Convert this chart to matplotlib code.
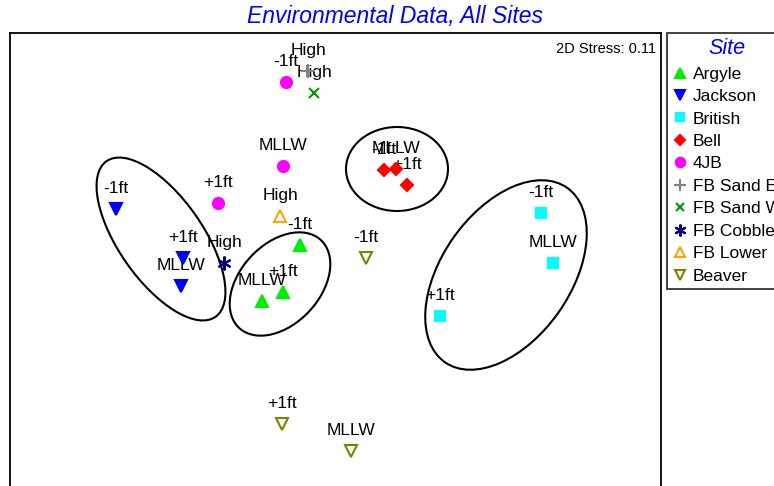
import matplotlib.pyplot as plt
from matplotlib.patches import Ellipse

plt.rcParams['font.family'] = ['Liberation Sans', 'DejaVu Sans']

# nMDS coordinates per site (one entry per tide level)
sites = ['Argyle', 'Jackson', 'British', 'Bell', '4JB',
         'FB Sand E', 'FB Sand W', 'FB Cobble', 'FB Lower', 'Beaver']
site_x = [
    [-0.35, -0.52, -0.73],
    [-2.19, -1.52, -1.54],
    [2.06, 2.18, 1.05],
    [0.49, 0.61, 0.72],
    [-0.49, -0.52, -1.17],
    [-0.27],
    [-0.21],
    [-1.11],
    [-0.55],
    [0.31, -0.53, 0.16],
]
site_y = [
    [0.55, 0.08, -0.01],
    [0.91, 0.42, 0.14],
    [0.87, 0.37, -0.16],
    [1.30, 1.31, 1.15],
    [2.18, 1.34, 0.97],
    [2.29],
    [2.07],
    [0.37],
    [0.84],
    [0.42, -1.24, -1.51],
]
site_levels = [
    ['-1ft', '+1ft', 'MLLW'],
    ['-1ft', '+1ft', 'MLLW'],
    ['-1ft', 'MLLW', '+1ft'],
    ['-1ft', 'MLLW', '+1ft'],
    ['-1ft', 'MLLW', '+1ft'],
    ['High'],
    ['High'],
    ['High'],
    ['High'],
    ['-1ft', '+1ft', 'MLLW'],
]
stress = 0.11

# marker, colour, size, filled
asterisk = (6, 2, 0)
styles = [
    ('^', '#00ee00', 9, True),
    ('v', '#0000ff', 9, True),
    ('s', '#00ffff', 7.5, True),
    ('D', '#ff0000', 6.5, True),
    ('o', '#ff00ff', 8, True),
    ('+', '#808080', 10, True),
    ('x', '#009900', 7, True),
    (asterisk, '#000080', 10, True),
    ('^', '#ffa500', 9, False),
    ('v', '#808000', 9, False),
]

# grouping ellipses: centre, width, height, angle
ellipses = [
    ((-1.74, 0.61), 1.90, 0.84, -55),
    ((-0.55, 0.16), 1.20, 0.80, 47),
    ((0.62, 1.31), 1.02, 0.84, 0),
    ((1.71, 0.25), 2.13, 1.29, 55),
]

fig = plt.figure(figsize=(7.74, 4.86), dpi=100)
ax = fig.add_axes([10 / 774, 1 - 500 / 486, 651 / 774, 467 / 486])
ax.set_xlim(-3.25, 3.26)
ax.set_ylim(-2.0, 2.67)
ax.set_xticks([])
ax.set_yticks([])
for s in ax.spines.values():
    s.set_linewidth(1.3)

for (cx, cy), w, h, ang in ellipses:
    ax.add_patch(Ellipse((cx, cy), w, h, angle=ang, fill=False,
                         edgecolor='black', linewidth=1.5, zorder=2))

for name, xs, ys, levels, (m, c, ms, filled) in zip(sites, site_x, site_y,
                                                   site_levels, styles):
    face = c if filled else 'none'
    ax.plot(xs, ys, linestyle='none', marker=m, markersize=ms,
            markerfacecolor=face, markeredgecolor=c, markeredgewidth=1.5,
            label=name, zorder=4)
    for x, y, lab in zip(xs, ys, levels):
        ax.annotate(lab, (x, y), xytext=(0, 14.5), textcoords='offset points',
                    ha='center', va='center', fontsize=12.5, zorder=3)

ax.text(0.993, 0.965, '2D Stress: %.2f' % stress, transform=ax.transAxes,
        ha='right', va='center', fontsize=10.5)

fig.text(395 / 774, 1 - 17 / 486, 'Environmental Data, All Sites',
         ha='center', va='center', fontsize=16.5, style='italic',
         color='#0000ff')

leg = fig.legend(loc='upper left', bbox_to_anchor=(667 / 774, 1 - 33 / 486),
                 title='Site', fontsize=12.5, title_fontsize=15.5,
                 frameon=True, fancybox=False, edgecolor='black',
                 borderpad=0.3, labelspacing=0.42, handletextpad=0.3,
                 handlelength=0.9, borderaxespad=0, markerscale=0.85)
leg.get_frame().set_linewidth(1.3)
leg.get_title().set_color('#0000ff')
leg.get_title().set_style('italic')

fig.savefig('out.png', dpi=100)
